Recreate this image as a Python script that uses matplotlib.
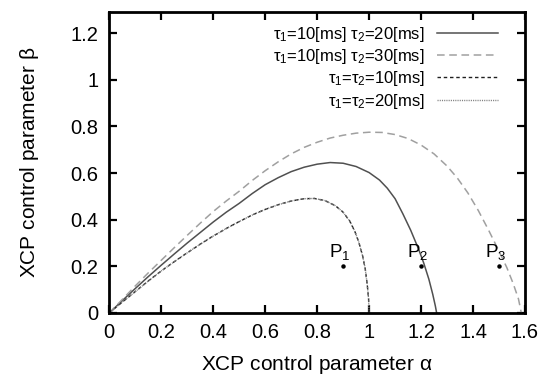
import numpy as np
import matplotlib
matplotlib.use("Agg")
import matplotlib.pyplot as plt
from matplotlib.ticker import FormatStrFormatter

plt.rcParams['font.family'] = ['Liberation Sans', 'DejaVu Sans']
plt.rcParams['mathtext.fontset'] = 'custom'
plt.rcParams['mathtext.rm'] = 'Liberation Sans'
plt.rcParams['mathtext.it'] = 'Liberation Sans'
plt.rcParams['mathtext.sf'] = 'Liberation Sans'

# tau1=10, tau2=20 (solid)
alpha_b = [0, 0.05, 0.1, 0.15, 0.2, 0.25, 0.3, 0.35, 0.4, 0.45, 0.5, 0.55,
           0.6, 0.65, 0.7, 0.75, 0.8, 0.85, 0.9, 0.95, 1.0,
           1.04, 1.07, 1.1, 1.13, 1.16, 1.19, 1.21, 1.23, 1.245, 1.255, 1.26]
beta_b = [0, 0.053, 0.105, 0.156, 0.205, 0.253, 0.3, 0.345, 0.39, 0.432,
          0.47, 0.512, 0.55, 0.58, 0.606, 0.625, 0.638, 0.645, 0.642, 0.628,
          0.602, 0.57, 0.535, 0.49, 0.425, 0.355, 0.275, 0.215, 0.145, 0.08,
          0.03, 0]

# tau1=10, tau2=30 (light dashed)
alpha_c = [0, 0.05, 0.1, 0.15, 0.2, 0.25, 0.3, 0.35, 0.4, 0.45, 0.5, 0.55,
           0.6, 0.65, 0.7, 0.75, 0.8, 0.85, 0.9, 0.95, 1.0,
           1.05, 1.1, 1.15, 1.2, 1.25, 1.3, 1.34, 1.38, 1.42, 1.46, 1.5,
           1.53, 1.555, 1.575, 1.586]
beta_c = [0, 0.058, 0.116, 0.172, 0.226, 0.28, 0.333, 0.385, 0.435, 0.48,
          0.522, 0.568, 0.61, 0.648, 0.682, 0.71, 0.732, 0.75, 0.762, 0.771,
          0.775, 0.774, 0.765, 0.748, 0.72, 0.682, 0.63, 0.578, 0.515, 0.44,
          0.355, 0.265, 0.195, 0.125, 0.06, 0]

# tau1=tau2=10 and tau1=tau2=20 (same curve)
alpha_a = [0, 0.05, 0.1, 0.15, 0.2, 0.25, 0.3, 0.35, 0.4, 0.45, 0.5, 0.55,
           0.6, 0.65, 0.7, 0.75, 0.79, 0.83, 0.87, 0.9, 0.925, 0.945, 0.96,
           0.975, 0.985, 0.993, 0.998, 1.0]
beta_a = [0, 0.047, 0.092, 0.137, 0.18, 0.22, 0.258, 0.295, 0.33, 0.362,
          0.392, 0.42, 0.444, 0.464, 0.48, 0.49, 0.491, 0.482, 0.46, 0.432,
          0.395, 0.35, 0.305, 0.245, 0.19, 0.12, 0.06, 0]

p_alpha = [0.9, 1.2, 1.5]
p_beta = [0.2, 0.2, 0.2]
p_names = [r'P$_1$', r'P$_2$', r'P$_3$']

fig = plt.figure(figsize=(5.46, 3.78), dpi=100)
ax = fig.add_axes([0.2002, 0.172, 0.7613, 0.796])

ax.plot(alpha_b, beta_b, color='#505050', lw=1.1,
        label=r'$\tau_1$=10[ms] $\tau_2$=20[ms]')
ax.plot(alpha_c, beta_c, color='#a0a0a0', lw=1.1, dashes=(5, 3),
        label=r'$\tau_1$=10[ms] $\tau_2$=30[ms]')
ax.plot(alpha_a, beta_a, color='#202020', lw=1.0, dashes=(2.5, 2),
        label=r'$\tau_1$=$\tau_2$=10[ms]')
ax.plot(alpha_a, beta_a, color='#808080', lw=1.0, dashes=(0.8, 0.8),
        label=r'$\tau_1$=$\tau_2$=20[ms]')

ax.plot(p_alpha, p_beta, 'o', color='black', ms=2.2)
for a, b, n in zip(p_alpha, p_beta, p_names):
    ax.text(a - 0.012, b + 0.02, n, ha='center', va='bottom', fontsize=13.5)

ax.set_xlim(0, 1.6)
ax.set_ylim(0, 1.29)
ax.set_xticks(np.arange(0, 1.61, 0.2))
ax.set_yticks(np.arange(0, 1.21, 0.2))
ax.xaxis.set_major_formatter(FormatStrFormatter('%g'))
ax.yaxis.set_major_formatter(FormatStrFormatter('%g'))
ax.tick_params(direction='in', length=6, width=1.6, top=True, right=True,
               labelsize=14.5, colors='black')
ax.tick_params(axis='y', pad=8)
ax.tick_params(axis='x', pad=7)
for s in ax.spines.values():
    s.set_linewidth(2)

ax.set_xlabel(r'XCP control parameter $\alpha$', fontsize=15, labelpad=8)
ax.set_ylabel(r'XCP control parameter $\beta$', fontsize=15, labelpad=21)

ax.legend(loc='upper right', bbox_to_anchor=(0.966, 1.0), frameon=False,
          markerfirst=False, fontsize=12, handlelength=3.7,
          handletextpad=0.7, labelspacing=0.2, borderaxespad=0.35)

fig.savefig('out.png', dpi=100)
